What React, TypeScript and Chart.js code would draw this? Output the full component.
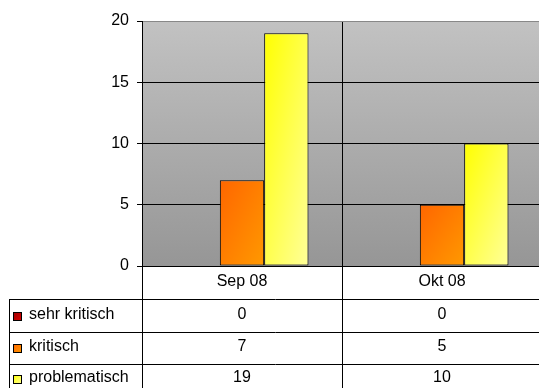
import React, { useEffect, useRef } from "react";
import { Chart, registerables } from "chart.js";

Chart.register(...registerables);

// Monthly counts per severity level
const categories = ["Sep 08", "Okt 08"];
const seriesNames = ["sehr kritisch", "kritisch", "problematisch"];
const sehrKritisch = [0, 0];
const kritisch = [7, 5];
const problematisch = [19, 10];
const yTicks = [0, 5, 10, 15, 20];

// Gradient stops per series: [top-left, bottom-right]
const seriesColors: [string, string][] = [
  ["#990000", "#dd0000"],
  ["#ff6600", "#ff9900"],
  ["#ffff00", "#ffff99"],
];

const FONT = "'Liberation Sans', Arial, Helvetica, sans-serif";
const FONT_SIZE = 16;
const CAT_PCT = 0.665;

// Row boundaries of the data table under the plot
const ROW_LINES = [266, 299, 332, 364, 394];
const TABLE_LEFT = 9;

// Diagonal gradient stretched over a box (corner to corner in box space)
function diagGradient(c: CanvasRenderingContext2D, left: number, top: number, w: number, h: number, c0: string, c1: string) {
  const t = 1 / (1 / (w * w) + 1 / (h * h));
  const g = c.createLinearGradient(left, top, left + t / w * 2, top + t / h * 2);
  g.addColorStop(0, c0);
  g.addColorStop(1, c1);
  return g;
}

function barGradient(ctx: any) {
  const chart = ctx.chart;
  const xs = chart.scales.x;
  const ys = chart.scales.y;
  const ds = ctx.datasetIndex;
  const [c0] = seriesColors[ds];
  if (!xs || !ys || ctx.dataIndex === undefined || ctx.type !== "data") return c0;
  const n = chart.data.datasets.length;
  const catW = xs.width / chart.data.labels.length;
  const groupW = catW * CAT_PCT;
  const bw = groupW / n;
  const cx = xs.getPixelForValue(ctx.dataIndex);
  const left = cx - groupW / 2 + ds * bw;
  const v = chart.data.datasets[ds].data[ctx.dataIndex] as number;
  const top = ys.getPixelForValue(v);
  const base = ys.getPixelForValue(0);
  if (!isFinite(left) || !isFinite(top) || base - top < 1) return c0;
  return diagGradient(chart.ctx, left, top, bw, base - top, seriesColors[ds][0], seriesColors[ds][1]);
}

const plotBackground = {
  id: "plotBackground",
  beforeDraw(chart: any) {
    const { ctx, chartArea: a } = chart;
    const g = ctx.createLinearGradient(0, a.top, 0, a.bottom);
    g.addColorStop(0, "#c2c2c2");
    g.addColorStop(1, "#969696");
    ctx.save();
    ctx.fillStyle = g;
    ctx.fillRect(a.left, a.top, a.right - a.left, a.bottom - a.top);
    ctx.restore();
  },
};

const dataTable = {
  id: "dataTable",
  afterDraw(chart: any) {
    const { ctx, chartArea: a } = chart;
    const xs = chart.scales.x;
    const catW = xs.width / categories.length;
    const seriesData = [sehrKritisch, kritisch, problematisch];
    ctx.save();
    ctx.strokeStyle = "#000";
    ctx.lineWidth = 1;
    const line = (x1: number, y1: number, x2: number, y2: number) => {
      ctx.beginPath();
      ctx.moveTo(x1, y1);
      ctx.lineTo(x2, y2);
      ctx.stroke();
    };
    // horizontal row lines
    for (let r = 1; r < ROW_LINES.length; r++) {
      line(TABLE_LEFT, ROW_LINES[r] + 0.5, a.right, ROW_LINES[r] + 0.5);
    }
    // vertical column lines
    line(TABLE_LEFT + 0.5, ROW_LINES[1], TABLE_LEFT + 0.5, ROW_LINES[4]);
    for (let i = 0; i <= categories.length; i++) {
      const x = Math.round(a.left + i * catW) + 0.5;
      line(x, a.bottom, x, ROW_LINES[4]);
    }
    ctx.font = `${FONT_SIZE}px ${FONT}`;
    ctx.fillStyle = "#000";
    ctx.textBaseline = "middle";
    ctx.textAlign = "center";
    categories.forEach((c, i) => {
      const cx = xs.getPixelForValue(i);
      ctx.fillText(c, cx, (ROW_LINES[0] + ROW_LINES[1]) / 2 - 1);
      seriesData.forEach((arr, s) => {
        ctx.fillText(String(arr[i]), cx, (ROW_LINES[s + 1] + ROW_LINES[s + 2]) / 2 - 1);
      });
    });
    // legend keys in the first column
    ctx.textAlign = "left";
    seriesNames.forEach((name, s) => {
      const cy = (ROW_LINES[s + 1] + ROW_LINES[s + 2]) / 2;
      const y0 = Math.round(cy) - 4;
      ctx.fillStyle = diagGradient(ctx, 13, y0, 9, 9, seriesColors[s][0], seriesColors[s][1]);
      ctx.fillRect(13, y0, 9, 9);
      ctx.strokeStyle = "#000";
      ctx.strokeRect(13.5, y0 + 0.5, 8, 8);
      ctx.fillStyle = "#000";
      ctx.fillText(name, 29, cy - 1);
    });
    ctx.restore();
  },
};

export default function App() {
  const ref = useRef<HTMLCanvasElement>(null);
  useEffect(() => {
    document.body.style.margin = "0";
    const chart = new Chart(ref.current!, {
      type: "bar",
      data: {
        labels: categories,
        datasets: [sehrKritisch, kritisch, problematisch].map((d, i) => ({
          label: seriesNames[i],
          data: d,
          backgroundColor: barGradient,
          borderColor: "#000",
          borderWidth: 1,
          borderSkipped: false,
          categoryPercentage: CAT_PCT,
          barPercentage: 1,
        })),
      },
      options: {
        animation: false,
        responsive: false,
        devicePixelRatio: 1,
        layout: { padding: { top: 21, right: 3, left: 0, bottom: 0 } },
        plugins: { legend: { display: false }, tooltip: { enabled: false } },
        scales: {
          x: {
            offset: true,
            afterFit: (s: any) => {
              s.height = 388 - 266;
            },
            ticks: { display: false },
            grid: { color: "#000", drawTicks: false, offset: true },
            border: { display: false },
          },
          y: {
            min: 0,
            max: 20,
            afterFit: (s: any) => {
              s.width = 142;
            },
            afterBuildTicks: (s: any) => {
              s.ticks = yTicks.map((v) => ({ value: v }));
            },
            ticks: {
              color: "#000",
              font: { family: FONT, size: FONT_SIZE },
              padding: 8,
            },
            grid: {
              color: (c: any) => (c.tick && c.tick.value === 20 ? "#888888" : "#000"),
              tickColor: "#000",
              tickLength: 5,
            },
            border: { display: true, color: "#000" },
          },
        },
      },
      plugins: [plotBackground, dataTable],
    });
    return () => chart.destroy();
  }, []);
  return (
    <div style={{ width: 539, height: 388, overflow: "hidden", position: "relative" }}>
      <canvas ref={ref} width={545} height={388} style={{ display: "block" }} />
    </div>
  );
}
